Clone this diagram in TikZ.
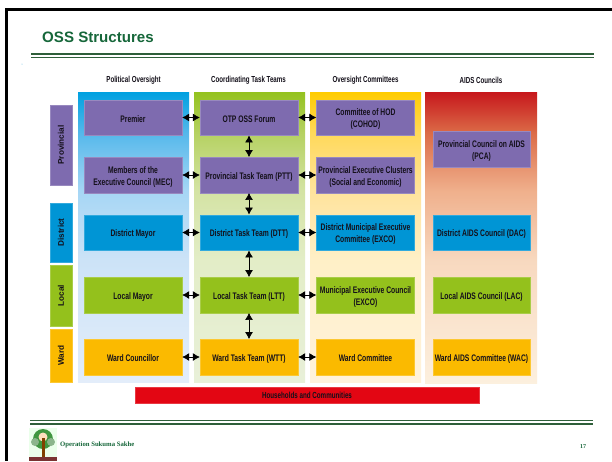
\documentclass[tikz,border=0pt]{standalone}
\usepackage{fontspec}
\setmainfont{Liberation Sans}
\newfontfamily\narrowfont[BoldFeatures={FakeStretch=0.71}]{Liberation Sans}
\newfontfamily\footfont{Liberation Serif}
\usetikzlibrary{arrows.meta}
\definecolor{ossgreen}{HTML}{16673A}
\definecolor{rulegreen}{HTML}{2F5F3A}
\definecolor{osspurple}{HTML}{7E6BAF}
\definecolor{ossblue}{HTML}{0095D5}
\definecolor{osslime}{HTML}{94C11C}
\definecolor{ossyellow}{HTML}{FBBA00}
\definecolor{ossred}{HTML}{E30613}
\definecolor{inkdark}{HTML}{14101A}
\pgfdeclareverticalshading{polfade}{100bp}{rgb(0bp)=(0.89,0.93,0.98); rgb(25bp)=(0.89,0.93,0.98); rgb(46bp)=(0.80,0.89,0.97); rgb(58bp)=(0.65,0.84,0.96); rgb(68bp)=(0.33,0.72,0.92); rgb(75bp)=(0,0.63,0.88); rgb(100bp)=(0,0.63,0.88)}
\pgfdeclareverticalshading{cotfade}{100bp}{rgb(0bp)=(0.91,0.94,0.85); rgb(25bp)=(0.91,0.94,0.85); rgb(46bp)=(0.89,0.93,0.78); rgb(58bp)=(0.83,0.89,0.64); rgb(68bp)=(0.71,0.82,0.38); rgb(75bp)=(0.58,0.76,0.12); rgb(100bp)=(0.58,0.76,0.12)}
\pgfdeclareverticalshading{ovrfade}{100bp}{rgb(0bp)=(1,0.95,0.86); rgb(25bp)=(1,0.95,0.86); rgb(46bp)=(1,0.94,0.78); rgb(58bp)=(1,0.89,0.61); rgb(68bp)=(1,0.85,0.35); rgb(75bp)=(1,0.8,0); rgb(100bp)=(1,0.8,0)}
\pgfdeclareverticalshading{aidfade}{100bp}{rgb(0bp)=(0.99,0.94,0.87); rgb(25bp)=(0.99,0.94,0.87); rgb(46bp)=(0.97,0.85,0.75); rgb(58bp)=(0.94,0.69,0.55); rgb(68bp)=(0.86,0.42,0.28); rgb(75bp)=(0.78,0.09,0.11); rgb(100bp)=(0.78,0.09,0.11)}
\tikzset{
	lvlbox/.style={draw=#1!80!white, line width=0.4pt, fill=#1, text=inkdark, align=center, inner sep=0pt, minimum width=98pt, minimum height=35.5pt, font=\narrowfont\bfseries\fontsize{9.5}{11.6}\selectfont, execute at begin node={\rule{0pt}{10pt}}},
	twolines/.style={execute at begin node={\rule{0pt}{22pt}}},
	rowbox/.style={draw=#1!80!white, line width=0.4pt, fill=#1, text=inkdark, rotate=90, inner sep=0pt, minimum height=22pt, font=\bfseries\fontsize{8.2}{10}\selectfont},
	colhead/.style={text=inkdark, inner sep=0pt, font=\narrowfont\bfseries\fontsize{8.7}{10}\selectfont},
	link/.style={{Latex[length=7pt,width=8pt]}-{Latex[length=7pt,width=8pt]}, black, line width=0.7pt}
}
\begin{document}
\begin{tikzpicture}[x=1pt,y=-1pt]
		%%%%% START %%%%%
		\useasboundingbox (0, 0) rectangle (612, 461);
		\fill[white] (0, 0) rectangle (612, 461);
		\fill[black] (5, 8.3) rectangle (612, 10.7);
		\fill[black] (5, 8.3) rectangle (7.7, 461);
		
		\node[anchor=base west, inner sep=0pt, text=ossgreen, font=\bfseries\fontsize{15.1}{18}\selectfont] (title) at (42, 42) {OSS Structures};
		\fill[rulegreen] (31, 53) rectangle (594, 55);
		\fill[rulegreen] (31, 57) rectangle (594, 58);
		\fill[ossblue!60] (22, 64) circle (0.5);
		
		\shade[shading=polfade] (78, 92) rectangle (189, 382);
		\shade[shading=cotfade] (194, 92) rectangle (305, 382);
		\shade[shading=ovrfade] (310, 92) rectangle (421, 382);
		\shade[shading=aidfade] (425, 92) rectangle (537, 383);
		
		\node[colhead] (polhead) at (133.5, 80) {Political Oversight};
		\node[colhead] (cothead) at (248.5, 80) {Coordinating Task Teams};
		\node[colhead] (ovrhead) at (365.5, 80) {Oversight Committees};
		\node[colhead] (aidhead) at (481, 80) {AIDS Councils};
		
		\node[rowbox=osspurple, minimum width=80pt] (rowprov) at (61, 145) {Provincial};
		\node[rowbox=ossblue, minimum width=59pt] (rowdist) at (61, 232.5) {District};
		\node[rowbox=osslime, minimum width=61pt] (rowlocal) at (61, 295.5) {Local};
		\node[rowbox=ossyellow, minimum width=53pt] (rowward) at (61, 355.5) {Ward};
		
		\node[lvlbox=osspurple] (premier) at (133, 117.5) {Premier};
		\node[lvlbox=osspurple, twolines] (mec) at (133, 175) {Members of the\\Executive Council (MEC)};
		\node[lvlbox=ossblue] (mayor) at (133, 232.5) {District Mayor};
		\node[lvlbox=osslime] (localmayor) at (133, 295) {Local Mayor};
		\node[lvlbox=ossyellow] (councillor) at (133, 357) {Ward Councillor};
		
		\node[lvlbox=osspurple] (forum) at (249, 117.5) {OTP OSS Forum};
		\node[lvlbox=osspurple] (ptt) at (249, 175) {Provincial Task Team (PTT)};
		\node[lvlbox=ossblue] (dtt) at (249, 232.5) {District Task Team (DTT)};
		\node[lvlbox=osslime] (ltt) at (249, 295) {Local Task Team (LTT)};
		\node[lvlbox=ossyellow] (wtt) at (249, 357) {Ward Task Team (WTT)};
		
		\node[lvlbox=osspurple, twolines] (cohod) at (365.5, 117.5) {Committee of HOD\\(COHOD)};
		\node[lvlbox=osspurple, twolines] (clusters) at (365.5, 175) {Provincial Executive Clusters\\(Social and Economic)};
		\node[lvlbox=ossblue, twolines] (dexco) at (365.5, 232.5) {District Municipal Executive\\Committee (EXCO)};
		\node[lvlbox=osslime, twolines] (mexco) at (365.5, 295) {Municipal Executive Council\\(EXCO)};
		\node[lvlbox=ossyellow] (wardcom) at (365.5, 357) {Ward Committee};
		
		\node[lvlbox=osspurple, twolines, minimum width=97pt] (pca) at (481.5, 149) {Provincial Council on AIDS\\(PCA)};
		\node[lvlbox=ossblue, minimum width=97pt] (dac) at (481.5, 232.5) {District AIDS Council (DAC)};
		\node[lvlbox=osslime, minimum width=97pt] (lac) at (481.5, 295) {Local AIDS Council (LAC)};
		\node[lvlbox=ossyellow, minimum width=97pt] (wac) at (481.5, 357) {Ward AIDS Committee (WAC)};
		
		\draw[link] (premier) -- (forum);
		\draw[link] (mec) -- (ptt);
		\draw[link] (mayor) -- (dtt);
		\draw[link] (localmayor) -- (ltt);
		\draw[link] (councillor) -- (wtt);
		
		\draw[link] (forum) -- (cohod);
		\draw[link] (ptt) -- (clusters);
		\draw[link] (dtt) -- (dexco);
		\draw[link] (ltt) -- (mexco);
		\draw[link] (wtt) -- (wardcom);
		
		\draw[link] (forum) -- (ptt);
		\draw[link] (ptt) -- (dtt);
		\draw[link] (dtt) -- (ltt);
		\draw[link] (ltt) -- (wtt);
		
		\node[draw=ossred!80!white, line width=0.4pt, fill=ossred, text=inkdark, inner sep=0pt, minimum width=344pt, minimum height=16pt, font=\narrowfont\bfseries\fontsize{8.8}{10}\selectfont] (households) at (307, 395) {Households and Communities};
		
		\fill[rulegreen] (30, 420) rectangle (593, 421);
		\fill[rulegreen] (30, 423) rectangle (593, 424.5);
		
		\fill[green!8!white] (29, 428) rectangle (57, 461);
		\fill[green!45!black!75] (43, 439) circle (10);
		\fill[green!35!black!45] (35, 442) circle (4);
		\fill[green!35!black!45] (51, 442) circle (4);
		\fill[orange!25!white] (43, 437) circle (4.5);
		\fill[orange!50!black] (41.5, 438) rectangle (45, 457);
		\fill[red!35!black!80] (29, 457) rectangle (57, 461);
		
		\node[anchor=west, inner sep=0pt, text=ossgreen, font=\footfont\bfseries\fontsize{6.7}{8}\selectfont] (footer) at (60, 445) {Operation Sukuma Sakhe};
		\node[inner sep=0pt, text=ossgreen, font=\footfont\bfseries\fontsize{6}{7}\selectfont] (pageno) at (583, 446.5) {17};
		%%%%% END %%%%%
	\end{tikzpicture}
\end{document}
